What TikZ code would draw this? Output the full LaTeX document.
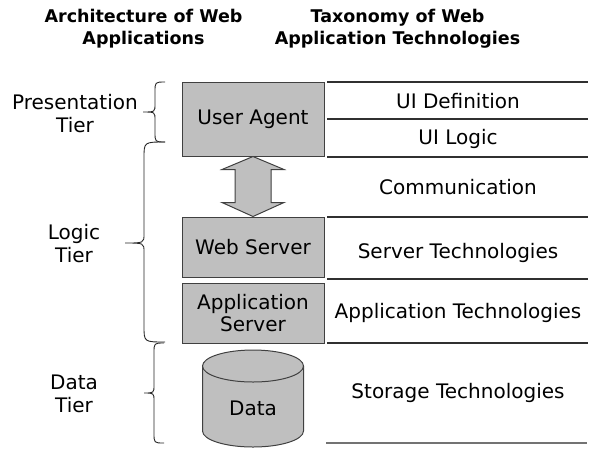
\documentclass[tikz,border=0pt]{standalone}
\usepackage{fontspec}
\setmainfont{DejaVu Sans}
\usetikzlibrary{calc}

\definecolor{boxfill}{HTML}{BFBFBF}
\definecolor{boxline}{HTML}{404040}
\definecolor{ruleline}{HTML}{303030}

% curly brace opening to the left: end x, stem x, tip x, top y, tip y, bottom y, end radius, tip radius
\newcommand\tierbrace[8]{%
  \draw[bracestyle] (#1,#4) .. controls (#2,#4) .. (#2,#4+#7) -- (#2,#5-#8)
    .. controls (#2,#5) .. (#3,#5) .. controls (#2,#5) .. (#2,#5+#8)
    -- (#2,#6-#7) .. controls (#2,#6) .. (#1,#6);}

\begin{document}
\begin{tikzpicture}[x=1pt,y=-1pt,
  title/.style={font=\fontsize{17.5}{22}\selectfont\bfseries, align=center, inner sep=0pt},
  label/.style={font=\fontsize{20}{23}\selectfont, align=center, inner sep=0pt},
  tierbox/.style={draw=boxline, fill=boxfill, line width=1pt, minimum width=142pt,
    font=\fontsize{20}{22}\selectfont, align=center, inner sep=0pt},
  bracestyle/.style={draw=black!85, line width=0.9pt},
  rule/.style={draw=ruleline, line width=1.2pt},
  arrowfill/.style={draw=boxline, fill=boxfill, line width=1pt, line join=miter}]
\useasboundingbox (0,0) rectangle (601,448);

% column headings
\node[title] (archhead) at (143.5,29) {Architecture of Web\\Applications};
\node[title] (taxhead) at (397.5,29) {Taxonomy of Web\\Application Technologies};

% architecture stack
\node[tierbox, minimum height=74pt] (ua) at (253,119) {User Agent};
\node[tierbox, minimum height=60pt] (ws) at (253,247) {Web Server};
\node[tierbox, minimum height=60pt] (as) at (253,313) {Application\\Server};

% bidirectional arrow between user agent and web server
\draw[arrowfill] (ua.south) -- ++(31,13) -- ++(-13,0) -- ($(ws.north)+(18,-14)$)
  -- ++(13,0) -- (ws.north) -- ++(-31,-14) -- ++(13,0) -- ($(ua.south)+(-18,13)$)
  -- ++(-13,0) -- cycle;

% database cylinder
\draw[arrowfill] (202.5,366) -- (202.5,431) arc[start angle=180, end angle=0, x radius=50.5, y radius=16]
  -- (303.5,366);
\draw[arrowfill] (253,366) ellipse[x radius=50.5, y radius=16];
\node[label] (db) at (253,408) {Data};

% tier braces and labels
\tierbrace{165}{155}{143}{82}{112}{142}{10}{8}
\tierbrace{165}{144}{125}{142}{243}{342}{16}{9}
\tierbrace{164}{154}{144}{343}{393}{443}{10}{8}
\node[label] (pres) at (75,113.5) {Presentation\\Tier};
\node[label] (logic) at (74,243.5) {Logic\\Tier};
\node[label] (data) at (74,393.5) {Data\\Tier};

% taxonomy rows
\foreach \y in {82,119,157,217,279,343}
  \draw[rule] (327,\y) -- (588,\y);
\draw[draw=black!55, line width=2pt] (326,443) -- (587,443);

\node[label] (uidef) at (458,101) {UI Definition};
\node[label] (uilogic) at (458,139) {UI Logic};
\node[label] (comm) at (458,187) {Communication};
\node[label] (servtech) at (458,253) {Server Technologies};
\node[label] (apptech) at (458,313) {Application Technologies};
\node[label] (stortech) at (458,393) {Storage Technologies};
\end{tikzpicture}
\end{document}
